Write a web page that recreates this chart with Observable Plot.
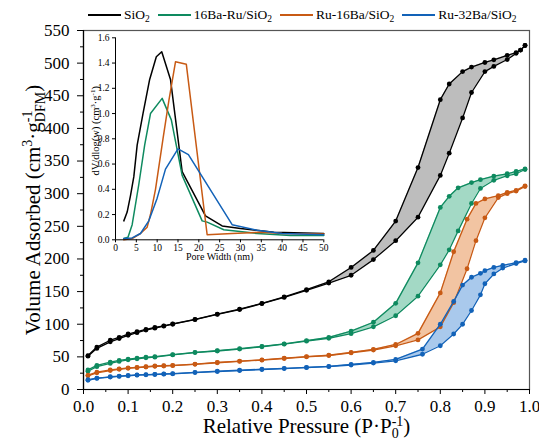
<!DOCTYPE html>
<html><head><meta charset="utf-8">
<script src="https://cdn.jsdelivr.net/npm/d3@7"></script>
<script src="https://cdn.jsdelivr.net/npm/@observablehq/plot@0.6"></script>
<style>
body{margin:0;background:#fff;}
#wrap{position:relative;width:539px;height:446px;font-family:"Liberation Serif","Times New Roman",serif;color:#000;}
#wrap svg.plotsvg{position:absolute;left:0;top:0;}
#legend{position:absolute;left:88px;top:5px;height:20px;display:flex;align-items:center;font-size:13.5px;white-space:nowrap;z-index:3;}
#legend .item{display:flex;align-items:center;margin-right:8px;}
#legend .item svg{margin-right:3px;}
#legend sub{font-size:9.5px;vertical-align:-3px;line-height:0;}
</style></head><body><div id="wrap"><div id="legend"></div></div>
<script>
// ---------- Data ----------
const sampleNames = ["SiO2", "16Ba-Ru/SiO2", "Ru-16Ba/SiO2", "Ru-32Ba/SiO2"];

// Isotherms (relative pressure, adsorption branch, desorption branch)
const pSiO2   = [0.01,0.03,0.06,0.08,0.10,0.12,0.14,0.16,0.18,0.20,0.25,0.30,0.35,0.40,0.45,0.50,0.55,0.60,0.65,0.70,0.75,0.80,0.82,0.85,0.87,0.90,0.92,0.95,0.97,0.98,0.99];
const adsSiO2 = [51,63,73,78,83,87,91,94,97,100,107,115,122.5,131.5,141,152,163,175,199,228,264,328,362,416,455,487,495,505.5,515,520,527];
const desSiO2 = [52,65,75.5,80,85,88.5,92,95,97.5,100.5,107.5,115.5,123,132,142,153,165,187,213,258,340,444,468,487,494,501,505,512,516,520,527];

const pBaRu   = [0.01,0.03,0.06,0.08,0.10,0.12,0.14,0.16,0.20,0.25,0.30,0.35,0.40,0.45,0.50,0.55,0.60,0.65,0.70,0.75,0.80,0.82,0.84,0.87,0.89,0.92,0.95,0.97,0.99];
const adsBaRu = [28,35,40,43,45.5,47,48.5,49.5,53,56.5,59,62,65.5,69.5,74,78.5,85.5,96,113,143,191,214,243,285,308,320.5,327.5,330.5,337];
const desBaRu = [30,37,42,44.5,46.5,48,49.5,50.5,53.5,57,59.5,62.5,66,70,75,80,89.5,103,132,194,279,296,309,317,321.5,327,330.5,334,338];

const pRu16   = [0.01,0.03,0.06,0.08,0.10,0.12,0.14,0.16,0.18,0.20,0.25,0.30,0.35,0.40,0.45,0.50,0.55,0.60,0.65,0.70,0.75,0.80,0.83,0.86,0.88,0.90,0.93,0.95,0.97,0.99];
const adsRu16 = [21,25.5,29,31,32.5,33.5,34.5,35.5,36,36.5,38.5,41,43,45,47.5,50,52,56,60.5,67,76,96,133,185,228,263,294,300,304,311];
const desRu16 = [22,26.5,30,31.5,33,34,35,36,36.5,37,39,41.5,43.5,45.5,48,50.5,52.5,57,61.5,69,86,148,211,261,285,292,297,302,305,312];

const pRu32   = [0.01,0.03,0.06,0.08,0.10,0.12,0.14,0.16,0.18,0.20,0.25,0.30,0.35,0.40,0.45,0.50,0.55,0.60,0.65,0.70,0.76,0.80,0.83,0.85,0.87,0.89,0.90,0.92,0.94,0.97,0.99];
const adsRu32 = [14,17,19,20,21,22,22.5,23,23.5,24,26,27.5,29,30.5,32,33.5,35,37.5,40.5,44,54,67,85,100,121,145,162,177,186,193,197];
const desRu32 = [15,17.5,19.5,20.5,21.5,22.3,22.8,23.3,23.8,24.3,26.3,28,29.5,31,32.5,34,35.5,38.5,41.5,46,62,100,135,160,172,178,182,187,190,194.5,198];

// Pore size distribution (inset)
const wSiO2 = [2,2.8,3.6,4.4,5.2,6.6,8.2,9.8,11.1,13.2,16,21.6,25.6,30,38,50];
const dSiO2 = [0.15,0.22,0.35,0.5,0.75,1.0,1.27,1.45,1.49,1.27,0.54,0.19,0.11,0.09,0.06,0.05];
const wBaRu = [2,3,4,5.6,7,8.4,11.2,13.4,16,20.8,22,26,34,42,50];
const dBaRu = [0.01,0.02,0.12,0.44,0.75,1.0,1.12,0.95,0.51,0.15,0.14,0.08,0.05,0.035,0.034];
const wRu16 = [2,4,6,7.6,8.4,9.6,11.4,12.8,14.4,17,22,28,35,40,50];
const dRu16 = [0.0,0.01,0.05,0.1,0.2,0.4,0.8,1.1,1.41,1.39,0.04,0.05,0.06,0.05,0.045];
const wRu32 = [2,4,6,8,10,12,15,17.5,28,34,40,50];
const dRu32 = [0.01,0.015,0.05,0.15,0.33,0.56,0.72,0.675,0.12,0.075,0.05,0.04];

// Ticks
const xTicks = d3.range(0, 11).map(i => i / 10);
const xMinor = d3.range(0, 10).map(i => i / 10 + 0.05);
const yTicks = d3.range(0, 12).map(i => i * 50);
const yMinor = d3.range(0, 11).map(i => i * 50 + 25);
const insetXTicks = d3.range(0, 11).map(i => i * 5);
const insetYTicks = d3.range(0, 9).map(i => i * 0.2);

// ---------- Styles ----------
const lineColors = ["#000000", "#0e8a5f", "#c85a14", "#1262b8"];
const fillColors = ["#bdbdbd", "#a3d9c5", "#f2c4a2", "#a9c9ec"];
const FONT = '"Liberation Serif","Times New Roman",serif';

const isotherms = [[pSiO2, adsSiO2, desSiO2],[pBaRu, adsBaRu, desBaRu],[pRu16, adsRu16, desRu16],[pRu32, adsRu32, desRu32]]
  .map(([p, a, d], k) => p.map((x, i) => ({k, p: x, ads: a[i], des: d[i]})));
const psd = [[wSiO2, dSiO2],[wBaRu, dBaRu],[wRu16, dRu16],[wRu32, dRu32]]
  .map(([w, d], k) => w.map((x, i) => ({k, w: x, d: d[i]})));

// ---------- Main plot ----------
const mainMarks = [];
isotherms.forEach((rows, k) => {
  mainMarks.push(Plot.areaY(rows.filter(r => r.p >= 0.5), {x: "p", y1: "ads", y2: "des", fill: fillColors[k]}));
});
isotherms.forEach((rows, k) => {
  mainMarks.push(
    Plot.line(rows, {x: "p", y: "ads", stroke: lineColors[k], strokeWidth: 1.3}),
    Plot.line(rows, {x: "p", y: "des", stroke: lineColors[k], strokeWidth: 1.3}),
    Plot.dot(rows, {x: "p", y: "ads", r: 2.4, fill: lineColors[k]}),
    Plot.dot(rows, {x: "p", y: "des", r: 2.4, fill: lineColors[k]})
  );
});

const XLABEL = "Relative Pressure", YLABEL = "Volume Adsorbed", IYLABEL = "dV/dlog(w)";
const main = Plot.plot({
  width: 539, height: 446,
  marginLeft: 83, marginRight: 10, marginTop: 30, marginBottom: 57,
  x: {domain: [0, 1]},
  y: {domain: [0, 550]},
  style: {fontFamily: FONT, fontSize: "17px", background: "white", color: "black"},
  marks: [
    Plot.frame({stroke: "#555", strokeWidth: 1.2}),
    ...mainMarks,
    Plot.ruleX([0], {stroke: "#000", strokeWidth: 1.2}),
    Plot.ruleY([0], {stroke: "#000", strokeWidth: 1.2}),
    Plot.axisX(xTicks, {tickSize: 5, tickPadding: 5.5, tickFormat: d3.format(".1f"), label: null, fontSize: 17}),
    Plot.axisX(xMinor, {tickSize: 3, tickFormat: () => "", label: null}),
    Plot.axisY(yTicks, {tickSize: 6, tickPadding: 8, label: null, fontSize: 17}),
    Plot.axisY(yMinor, {tickSize: 3, tickFormat: () => "", label: null}),
    Plot.text([XLABEL], {frameAnchor: "bottom", dy: 43, text: d => d, fontSize: 21}),
    Plot.text([YLABEL], {frameAnchor: "left", dx: -50, rotate: -90, textAnchor: "middle", text: d => d, fontSize: 21})
  ]
});
main.classList.add("plotsvg");

// ---------- Inset ----------
const insetMarks = psd.map((rows, k) => Plot.line(rows, {x: "w", y: "d", stroke: lineColors[k], strokeWidth: 1.5}));
const inset = Plot.plot({
  width: 539, height: 446,
  marginLeft: 115, marginRight: 215.7, marginTop: 37.3, marginBottom: 206.7,
  x: {domain: [0, 50]},
  y: {domain: [0, 1.6]},
  style: {fontFamily: FONT, fontSize: "9.5px", background: "transparent", color: "black"},
  marks: [
    ...insetMarks,
    Plot.ruleX([0], {stroke: "#000", strokeWidth: 1}),
    Plot.ruleY([0], {stroke: "#000", strokeWidth: 1}),
    Plot.axisX(insetXTicks, {tickSize: 3, tickPadding: 1, label: null}),
    Plot.axisY(insetYTicks, {tickSize: 3, tickPadding: 3, tickFormat: d3.format(".1f"), label: null}),
    Plot.text(["Pore Width (nm)"], {frameAnchor: "bottom", dy: 20, text: d => d, fontSize: 10}),
    Plot.text([IYLABEL], {frameAnchor: "left", dx: -20, dy: -8, rotate: -90, textAnchor: "middle", text: d => d, fontSize: 10.5})
  ]
});
inset.classList.add("plotsvg");

const wrap = document.getElementById("wrap");
wrap.appendChild(main);
wrap.appendChild(inset);

// ---------- Rich text labels (super/subscripts) ----------
const SVGNS = "http://www.w3.org/2000/svg";
function findText(svg, content) {
  return Array.from(svg.querySelectorAll("text")).find(t => t.textContent === content) || null;
}
function rich(textEl, base, parts) {
  if (!textEl) return;
  textEl.textContent = "";
  let lastSup = 0;
  for (const part of parts) {
    const ts = document.createElementNS(SVGNS, "tspan");
    ts.textContent = part.t;
    ts.setAttribute("font-size", part.size || base);
    if (part.dy) ts.setAttribute("dy", part.dy);
    textEl.appendChild(ts);
    if (part.back) ts.setAttribute("dx", -lastSup);
    part.ts = ts;
    if (part.mark) lastSup = ts.getComputedTextLength();
  }
  for (let i = 0; i < parts.length; i++) {
    if (parts[i].after) {
      const sup = parts[i - 2].ts.getComputedTextLength();
      const sub = parts[i - 1].ts.getComputedTextLength();
      if (sup > sub) parts[i].ts.setAttribute("dx", sup - sub);
    }
  }
}
try {
  rich(findText(main, XLABEL), 21, [
    {t: "Relative Pressure (P·P"},
    {t: "-1", size: 14, dy: -7, mark: true},
    {t: "0", size: 14, dy: 12, back: true},
    {t: ")", dy: -5, after: true}
  ]);
  rich(findText(main, YLABEL), 21, [
    {t: "Volume Adsorbed (cm"},
    {t: "3", size: 14, dy: -8},
    {t: "·g", dy: 8},
    {t: "-1", size: 14, dy: -8, mark: true},
    {t: "DFM", size: 14, dy: 13, back: true},
    {t: ")", dy: -5, after: true}
  ]);
  rich(findText(inset, IYLABEL), 10.5, [
    {t: "dV/dlog(w) (cm"},
    {t: "3", size: 7, dy: -4},
    {t: "·g", dy: 4},
    {t: "-1", size: 7, dy: -4},
    {t: ")", dy: 4}
  ]);
} catch (e) { console.error(e); }

// ---------- Legend ----------
const legend = document.getElementById("legend");
sampleNames.forEach((name, k) => {
  const item = document.createElement("div");
  item.className = "item";
  item.innerHTML = `<svg width="33" height="4"><line x1="0" x2="33" y1="2" y2="2" stroke="${lineColors[k]}" stroke-width="2"/></svg>` +
    `<span>${name.slice(0, -1)}<sub>${name.slice(-1)}</sub></span>`;
  legend.appendChild(item);
});
</script></body></html>
